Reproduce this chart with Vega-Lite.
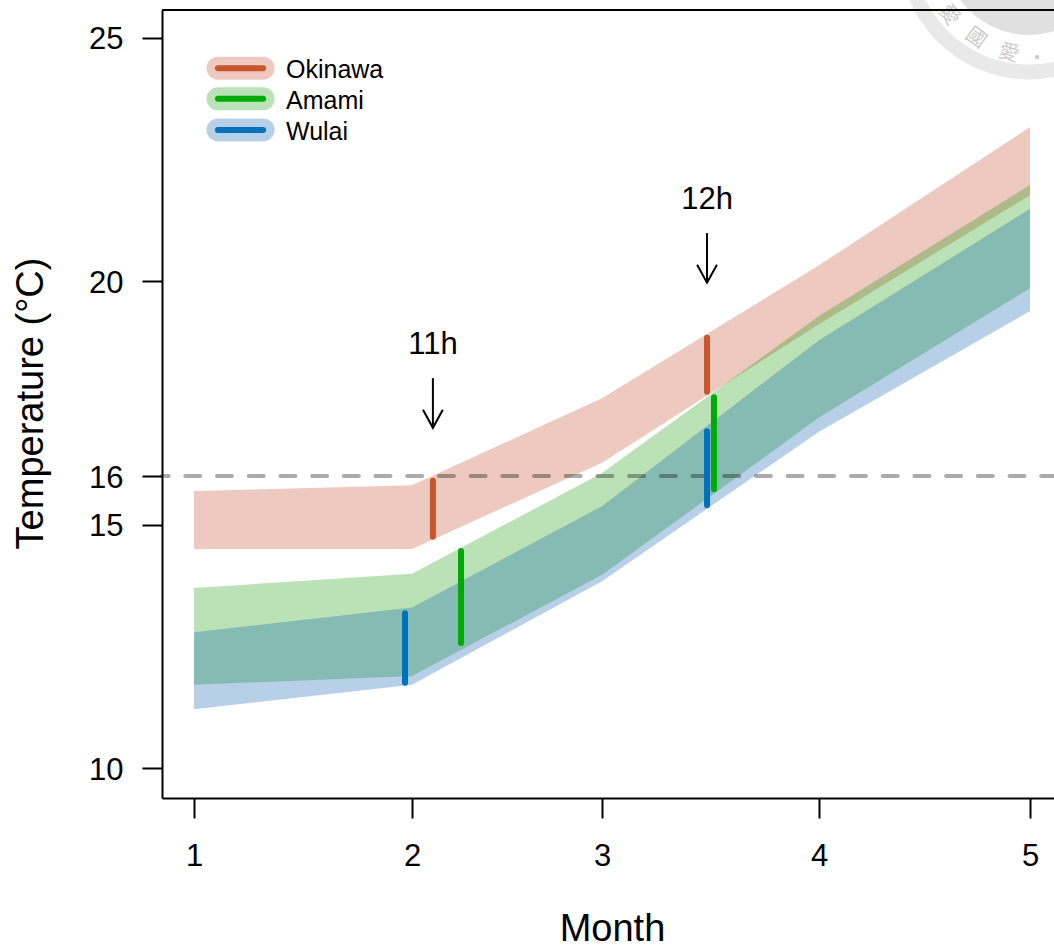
{
"$schema":"https://vega.github.io/schema/vega-lite/v6.json",
"width":892,"height":788,
"autosize":{"type":"none"},
"padding":{"left":162,"top":10,"right":0,"bottom":148},
"background":"white",
"config":{"view":{"stroke":null},"font":"Liberation Sans"},
"datasets":{
"bands":[
{"series":"Okinawa","month":1,"top":15.69,"bottom":14.50},
{"series":"Okinawa","month":2,"top":15.81,"bottom":14.50},
{"series":"Okinawa","month":3,"top":17.60,"bottom":16.27},
{"series":"Okinawa","month":4,"top":20.33,"bottom":19.12},
{"series":"Okinawa","month":5,"top":23.17,"bottom":21.77},
{"series":"Amami","month":1,"top":13.70,"bottom":11.71},
{"series":"Amami","month":2,"top":13.99,"bottom":11.89},
{"series":"Amami","month":3,"top":16.06,"bottom":13.97},
{"series":"Amami","month":4,"top":19.29,"bottom":17.20},
{"series":"Amami","month":5,"top":21.98,"bottom":19.86},
{"series":"Wulai","month":1,"top":12.79,"bottom":11.21},
{"series":"Wulai","month":2,"top":13.30,"bottom":11.71},
{"series":"Wulai","month":3,"top":15.38,"bottom":13.84},
{"series":"Wulai","month":4,"top":18.79,"bottom":16.91},
{"series":"Wulai","month":5,"top":21.49,"bottom":19.39}
],
"ranges":[
{"series":"Okinawa","month":2.11,"top":15.90,"bottom":14.75},
{"series":"Amami","month":2.258,"top":14.46,"bottom":12.57},
{"series":"Wulai","month":1.968,"top":13.18,"bottom":11.75},
{"series":"Okinawa","month":3.484,"top":18.84,"bottom":17.73},
{"series":"Amami","month":3.516,"top":17.62,"bottom":15.73},
{"series":"Wulai","month":3.484,"top":16.92,"bottom":15.40}
],
"arrows":[
{"label":"11h","month":2.11,"top":18.01,"bottom":16.99,"labelT":18.69},
{"label":"12h","month":3.484,"top":20.99,"bottom":19.97,"labelT":21.67}
],
"legend":[
{"series":"Okinawa","month":1.11,"month2":1.317,"t":24.38,"labelT":24.34,"labelX":1.422},
{"series":"Amami","month":1.11,"month2":1.317,"t":23.75,"labelT":23.71,"labelX":1.422},
{"series":"Wulai","month":1.11,"month2":1.317,"t":23.11,"labelT":23.07,"labelX":1.422}
],
"seal":[{"month":4.995,"t":26.81}],
"sealText":[
{"c":"愛","month":4.616,"t":25.47,"rot":54},
{"c":"國","month":4.744,"t":25.0,"rot":36},
{"c":"愛","month":4.9,"t":24.69,"rot":17},
{"c":"•","month":5.032,"t":24.57,"rot":0}
]
},
"layer":[
{"data":{"name":"seal"},"mark":{"type":"point","shape":"circle","filled":false,"size":59536,"stroke":"#e9e9e9","strokeWidth":15,"opacity":1,"clip":false},
"encoding":{
"x":{"field":"month","type":"quantitative","title":"Month",
"scale":{"domain":[0.853,1,2,3,4,5,5.11],"range":[0,32,250,440,657,868,892],"zero":false,"nice":false},
"axis":{"values":[1,2,3,4,5],"tickSize":20,"tickWidth":2,"tickColor":"black","domainColor":"black","domainWidth":2,"grid":false,"labelFontSize":31,"labelColor":"black","labelPadding":23,"labelFont":"Liberation Sans","labelFlush":false,"labelOverlap":false,"format":"d",
"titleFontSize":38,"titleFontWeight":"normal","titleColor":"black","titleFont":"Liberation Sans","titleX":450,"titleY":142,"titleBaseline":"alphabetic","titleAlign":"center"}},
"y":{"field":"t","type":"quantitative","title":"Temperature (°C)",
"scale":{"domain":[9.384,25.575],"zero":false,"nice":false},
"axis":{"values":[10,15,16,20,25],"tickSize":20,"tickWidth":2,"tickColor":"black","domainColor":"black","domainWidth":2,"grid":false,"labelFontSize":31,"labelColor":"black","labelPadding":19,"labelOffset":2,"labelFont":"Liberation Sans","labelFlush":false,"labelOverlap":false,"format":"d",
"titleFontSize":38,"titleFontWeight":"normal","titleColor":"black","titleFont":"Liberation Sans","titleX":-120,"titleY":393,"titleBaseline":"alphabetic","titleAlign":"center","titleAngle":-90}}
}},
{"data":{"name":"seal"},"mark":{"type":"point","shape":"circle","filled":true,"size":28900,"fill":"#e0e0e0","opacity":1,"clip":false},
"encoding":{"x":{"field":"month","type":"quantitative"},"y":{"field":"t","type":"quantitative"}}},
{"data":{"name":"sealText"},"mark":{"type":"text","font":"Noto Sans CJK TC","fontSize":20,"color":"#cccccc","baseline":"middle","align":"center","clip":false},
"encoding":{"x":{"field":"month","type":"quantitative"},"y":{"field":"t","type":"quantitative"},"text":{"field":"c"},"angle":{"field":"rot","type":"quantitative","scale":null}}},
{"data":{"name":"bands"},"mark":{"type":"area","opacity":0.29,"interpolate":"linear"},
"encoding":{"x":{"field":"month","type":"quantitative"},"y":{"field":"top","type":"quantitative"},"y2":{"field":"bottom"},
"fill":{"field":"series","type":"nominal","legend":null,"scale":{"domain":["Okinawa","Amami","Wulai"],"range":["#C44522","#119B03","#075DB0"]}},
"order":{"field":"series"}}},
{"data":{"values":[{"t":16}]},"mark":{"type":"rule","color":"#000000","opacity":0.33,"strokeWidth":4,"strokeDash":[15,16.7],"strokeDashOffset":2.2,"strokeCap":"round"},
"encoding":{"y":{"field":"t","type":"quantitative"}}},
{"data":{"name":"ranges"},"mark":{"type":"rule","strokeWidth":6,"strokeCap":"round"},
"encoding":{"x":{"field":"month","type":"quantitative"},"y":{"field":"top","type":"quantitative"},"y2":{"field":"bottom"},
"color":{"field":"series","type":"nominal","legend":null,"scale":{"domain":["Okinawa","Amami","Wulai"],"range":["#C8552B","#00AB08","#0072BC"]}}}},
{"data":{"name":"arrows"},"mark":{"type":"rule","strokeWidth":2,"color":"black"},
"encoding":{"x":{"field":"month","type":"quantitative"},"y":{"field":"top","type":"quantitative"},"y2":{"field":"bottom"}}},
{"data":{"name":"arrows"},"mark":{"type":"point","shape":"M-0.55,-1L0,0L0.55,-1","filled":false,"stroke":"black","strokeWidth":2,"size":1296,"opacity":1},
"encoding":{"x":{"field":"month","type":"quantitative"},"y":{"field":"bottom","type":"quantitative"}}},
{"data":{"name":"arrows"},"mark":{"type":"text","fontSize":31,"color":"black","baseline":"middle","align":"center"},
"encoding":{"x":{"field":"month","type":"quantitative"},"y":{"field":"labelT","type":"quantitative"},"text":{"field":"label"}}},
{"data":{"name":"legend"},"mark":{"type":"rule","strokeWidth":23,"strokeCap":"round","opacity":0.29},
"encoding":{"x":{"field":"month","type":"quantitative"},"x2":{"field":"month2"},"y":{"field":"t","type":"quantitative"},"stroke":{"field":"series","type":"nominal","legend":null,"scale":{"domain":["Okinawa","Amami","Wulai"],"range":["#C44522","#119B03","#075DB0"]}}}},
{"data":{"name":"legend"},"mark":{"type":"rule","strokeWidth":6,"strokeCap":"round"},
"encoding":{"x":{"field":"month","type":"quantitative"},"x2":{"field":"month2"},"y":{"field":"t","type":"quantitative"},"color":{"field":"series","type":"nominal","legend":null}}},
{"data":{"name":"legend"},"mark":{"type":"text","fontSize":25,"color":"black","align":"left","baseline":"middle"},
"encoding":{"x":{"field":"labelX","type":"quantitative"},"y":{"field":"labelT","type":"quantitative"},"text":{"field":"series"}}},
{"data":{"values":[{"t":25.575}]},"mark":{"type":"rule","color":"black","strokeWidth":2},
"encoding":{"y":{"field":"t","type":"quantitative"}}}
]
}
